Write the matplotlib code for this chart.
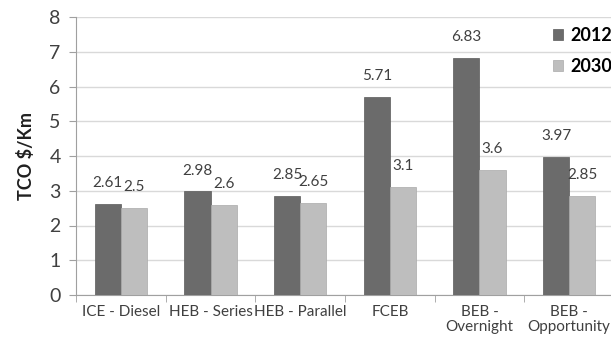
import matplotlib
matplotlib.use("Agg")
import matplotlib.pyplot as plt
from matplotlib.ticker import FixedLocator
import numpy as np

categories = ["ICE - Diesel", "HEB - Series", "HEB - Parallel", "FCEB",
              "BEB -\nOvernight", "BEB -\nOpportunity"]
tco_2012 = [2.61, 2.98, 2.85, 5.71, 6.83, 3.97]
tco_2030 = [2.5, 2.6, 2.65, 3.1, 3.6, 2.85]
series_labels = ["2012", "2030"]
y_ticks = [0, 1, 2, 3, 4, 5, 6, 7, 8]

plt.rcParams["font.family"] = ["Lato", "DejaVu Sans"]

fig = plt.figure(figsize=(6.11, 3.48), dpi=100)
ax = fig.add_axes([76 / 611, 1 - 295 / 348, 538 / 611, 278 / 348])

x = np.arange(len(categories))
w = 0.29
dark = "#6b6b6b"
light = "#bebebe"
b1 = ax.bar(x - w / 2, tco_2012, width=w, color=dark, edgecolor="#5a5a5a", linewidth=0.5, zorder=3)
b2 = ax.bar(x + w / 2, tco_2030, width=w, color=light, edgecolor="#aaaaaa", linewidth=0.5, zorder=3)

for bars, vals in ((b1, tco_2012), (b2, tco_2030)):
    for rect, v in zip(bars, vals):
        ax.annotate(f"{v:g}", (rect.get_x() + rect.get_width() / 2, v),
                    xytext=(0, 10), textcoords="offset points",
                    ha="center", va="bottom", fontsize=11, color="#404040")

ax.set_xlim(-0.5, len(categories) - 0.5)
ax.set_ylim(0, 8)
ax.set_yticks(y_ticks)
ax.tick_params(axis="y", labelsize=14, colors="#404040", length=5, color="#a0a0a0", pad=6)
ax.yaxis.grid(True, color="#d9d9d9", linewidth=1, zorder=0)

ax.set_xticks(x)
ax.set_xticklabels(categories, fontsize=11, color="#404040", linespacing=1.1)
ax.tick_params(axis="x", which="major", length=0, pad=7)
ax.xaxis.set_minor_locator(FixedLocator(np.arange(-0.5, len(categories), 1.0)))
ax.tick_params(axis="x", which="minor", length=5, color="#a0a0a0")

for side in ("top", "right"):
    ax.spines[side].set_visible(False)
ax.spines["left"].set_color("#a0a0a0")
ax.spines["bottom"].set_color("#a0a0a0")

ax.set_ylabel("TCO $/Km", fontsize=13, fontweight="bold", color="#202020", labelpad=10)

leg = fig.legend([b1, b2], series_labels, loc="upper left",
                 bbox_to_anchor=(546 / 611, 1 - 20 / 348), frameon=False,
                 prop={"size": 13, "weight": "bold"}, handlelength=0.55,
                 handleheight=0.55, handletextpad=0.4, labelspacing=0.75,
                 borderaxespad=0)

fig.savefig("out.png", dpi=100)
